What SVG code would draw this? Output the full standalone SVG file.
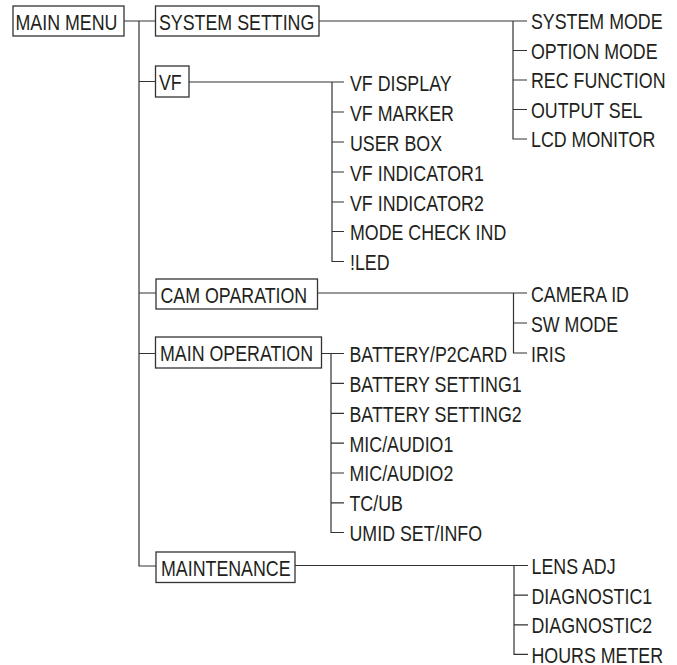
<svg xmlns="http://www.w3.org/2000/svg" width="677" height="665" viewBox="0 0 677 665">
<style>
text{font-family:"Liberation Sans",Arial,sans-serif;font-size:22px;fill:#231f20}
.box{fill:#fff;stroke:#333;stroke-width:1.3}
#connectors path{fill:none;stroke:#333;stroke-width:1.2}
</style>
<rect width="677" height="665" fill="#fff"/>
<g id="connectors">
<path d="M124 21H155.5M139 21V566H156M139 81.5H155.5M139 293H156M139 353.5H155.5"/>
<path d="M319 21H527M513 21V139H527M513 50.5H527M513 80H527M513 109.5H527"/>
<path d="M189 82H344M332 82V261.5H344M332 112H344M332 142H344M332 172H344M332 202H344M332 231.5H344"/>
<path d="M317.5 293H527M513.5 293V353H527M513.5 323H527"/>
<path d="M321.5 353.5H344M331 353.5V532.5H344M331 383.3H344M331 413.3H344M331 443.2H344M331 473H344M331 502.8H344"/>
<path d="M295 565.5H528M514 565.5V654.4H528M514 595.2H528M514 624.8H528"/>
</g>
<g id="main-menu"><rect class="box" x="13" y="6" width="111" height="30"/><text transform="translate(15.5 30) scale(.81 1)">MAIN MENU</text></g>
<g id="system-setting"><rect class="box" x="155.5" y="6" width="163.5" height="30"/><text transform="translate(159 30) scale(.81 1)">SYSTEM SETTING</text></g>
<g id="vf"><rect class="box" x="155.5" y="66" width="33.5" height="31"/><text transform="translate(159 89.5) scale(.81 1)">VF</text></g>
<g id="cam-operation"><rect class="box" x="156" y="279" width="161.5" height="30"/><text transform="translate(160.5 302.5) scale(.81 1)">CAM OPARATION</text></g>
<g id="main-operation"><rect class="box" x="155.5" y="337" width="166" height="31"/><text transform="translate(160 361) scale(.81 1)">MAIN OPERATION</text></g>
<g id="maintenance"><rect class="box" x="156" y="552" width="139" height="30.5"/><text transform="translate(161 576) scale(.81 1)">MAINTENANCE</text></g>
<g id="system-mode"><text transform="translate(531 29) scale(.81 1)">SYSTEM MODE</text></g>
<g id="option-mode"><text transform="translate(531 58.5) scale(.81 1)">OPTION MODE</text></g>
<g id="rec-function"><text transform="translate(531 88) scale(.81 1)">REC FUNCTION</text></g>
<g id="output-sel"><text transform="translate(531 117.5) scale(.81 1)">OUTPUT SEL</text></g>
<g id="lcd-monitor"><text transform="translate(531 147) scale(.81 1)">LCD MONITOR</text></g>
<g id="vf-display"><text transform="translate(350 90.5) scale(.81 1)">VF DISPLAY</text></g>
<g id="vf-marker"><text transform="translate(350 120.5) scale(.81 1)">VF MARKER</text></g>
<g id="user-box"><text transform="translate(350 150.5) scale(.81 1)">USER BOX</text></g>
<g id="vf-indicator1"><text transform="translate(350 180.5) scale(.81 1)">VF INDICATOR1</text></g>
<g id="vf-indicator2"><text transform="translate(350 210.5) scale(.81 1)">VF INDICATOR2</text></g>
<g id="mode-check-ind"><text transform="translate(350 240) scale(.81 1)">MODE CHECK IND</text></g>
<g id="led"><text transform="translate(350 270) scale(.81 1)">!LED</text></g>
<g id="camera-id"><text transform="translate(531 302) scale(.81 1)">CAMERA ID</text></g>
<g id="sw-mode"><text transform="translate(531 332) scale(.81 1)">SW MODE</text></g>
<g id="iris"><text transform="translate(531 361.5) scale(.81 1)">IRIS</text></g>
<g id="battery-p2card"><text transform="translate(349.5 361.5) scale(.81 1)">BATTERY/P2CARD</text></g>
<g id="battery-setting1"><text transform="translate(349.5 391.5) scale(.81 1)">BATTERY SETTING1</text></g>
<g id="battery-setting2"><text transform="translate(349.5 421.5) scale(.81 1)">BATTERY SETTING2</text></g>
<g id="mic-audio1"><text transform="translate(349.5 451.5) scale(.81 1)">MIC/AUDIO1</text></g>
<g id="mic-audio2"><text transform="translate(349.5 481) scale(.81 1)">MIC/AUDIO2</text></g>
<g id="tc-ub"><text transform="translate(349.5 511) scale(.81 1)">TC/UB</text></g>
<g id="umid-set-info"><text transform="translate(349.5 540.5) scale(.81 1)">UMID SET/INFO</text></g>
<g id="lens-adj"><text transform="translate(531.5 574) scale(.81 1)">LENS ADJ</text></g>
<g id="diagnostic1"><text transform="translate(531.5 603.5) scale(.81 1)">DIAGNOSTIC1</text></g>
<g id="diagnostic2"><text transform="translate(531.5 633) scale(.81 1)">DIAGNOSTIC2</text></g>
<g id="hours-meter"><text transform="translate(531.5 662.5) scale(.81 1)">HOURS METER</text></g>
</svg>
